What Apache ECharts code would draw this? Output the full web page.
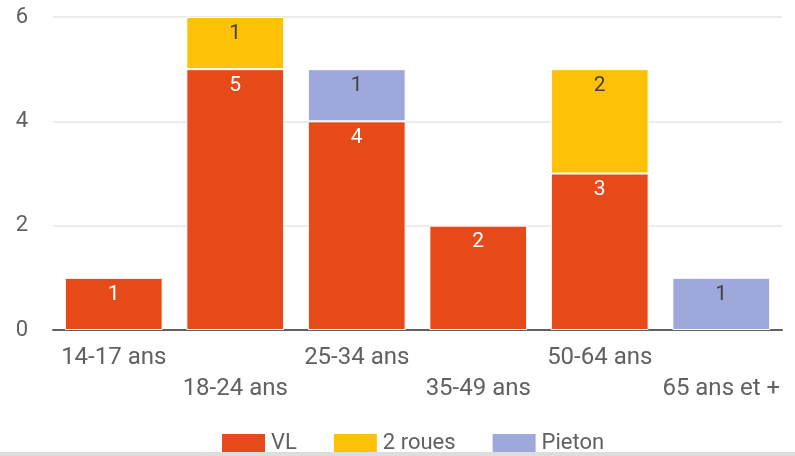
<!DOCTYPE html>
<html>
<head>
<meta charset="utf-8">
<script src="https://cdn.jsdelivr.net/npm/echarts@6/dist/echarts.min.js"></script>
<style>
  html, body { margin: 0; padding: 0; background: #fff; }
  #chart { width: 795px; height: 456px; }
</style>
</head>
<body>
<div id="chart"></div>
<script>
// tranches d'age
const categories = ['14-17 ans', '18-24 ans', '25-34 ans', '35-49 ans', '50-64 ans', '65 ans et +'];
const vl = [1, 5, 4, 2, 3, 0];
const deuxRoues = [0, 1, 0, 0, 2, 0];
const pieton = [0, 0, 1, 0, 0, 1];
const yTicks = [0, 2, 4, 6];

const myChart = echarts.init(document.getElementById('chart'));

function makeSeries(name, data, color, labelColor) {
  return {
    name: name,
    type: 'bar',
    stack: 'total',
    barCategoryGap: '19.5%',
    data: data.map(v => (v === 0 ? null : v)),
    itemStyle: { color: color, borderColor: '#fff', borderWidth: 1 },
    label: {
      show: true,
      position: 'insideTop',
      distance: 6,
      color: labelColor,
      fontSize: 21,
      fontFamily: 'Roboto'
    },
    emphasis: { disabled: true }
  };
}

const option = {
  animation: false,
  textStyle: { fontFamily: 'Roboto' },
  grid: { left: 53, right: 13, top: 17, bottom: 126 },
  legend: {
    left: 215,
    top: 427,
    itemWidth: 45,
    itemHeight: 20,
    itemGap: 35,
    icon: 'rect',
    textStyle: { fontSize: 22, color: '#616161', fontFamily: 'Roboto' },
    data: ['VL', '2 roues', 'Pieton']
  },
  xAxis: {
    type: 'category',
    data: categories,
    axisLine: { lineStyle: { color: '#616161', width: 2 } },
    axisTick: { show: false },
    axisLabel: {
      interval: 0,
      margin: 12,
      fontSize: 24,
      lineHeight: 31,
      color: '#616161',
      fontFamily: 'Roboto',
      formatter: (v, i) => (i % 2 === 1 ? '\n' + v : v)
    }
  },
  yAxis: {
    type: 'value',
    min: yTicks[0],
    max: yTicks[yTicks.length - 1],
    interval: 2,
    axisLine: { show: false },
    axisTick: { show: false },
    axisLabel: { fontSize: 22, color: '#616161', margin: 25, fontFamily: 'Roboto' },
    splitLine: { lineStyle: { color: '#e5e5e5', width: 1.5 } }
  },
  graphic: [{
    type: 'rect',
    left: 0,
    top: 452,
    shape: { width: 795, height: 4 },
    style: { fill: '#dddddd' },
    z: 100
  }],
  series: [
    makeSeries('VL', vl, '#e64a19', '#ffffff'),
    makeSeries('2 roues', deuxRoues, '#ffc107', '#424242'),
    makeSeries('Pieton', pieton, '#9fa8da', '#424242')
  ]
};

myChart.setOption(option);
</script>
</body>
</html>
